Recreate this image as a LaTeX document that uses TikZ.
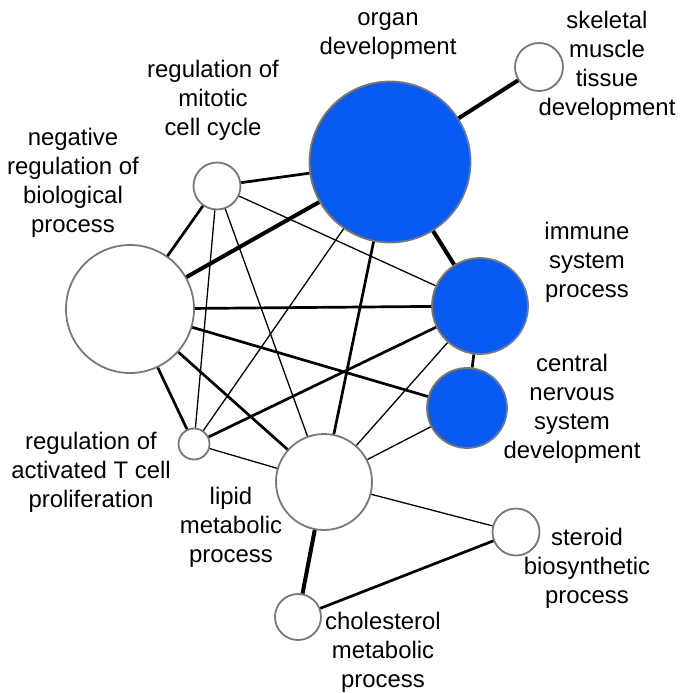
\documentclass[tikz,border=0pt]{standalone}
\usepackage{fontspec}
\setmainfont{Liberation Sans}
\definecolor{goblue}{RGB}{8,90,240}
\definecolor{rimgray}{RGB}{120,120,120}

\begin{document}
\begin{tikzpicture}[x=1bp,y=-1bp,
  term/.style={circle,draw=rimgray,line width=1.8bp,fill=white,inner sep=0pt,minimum size=#1},
  hit/.style={fill=goblue},
  lbl/.style={align=center,inner sep=0pt,font=\fontsize{24}{29}\selectfont},
  thin/.style={line width=1.3bp},
  mid/.style={line width=2.7bp},
  fat/.style={line width=4bp}]
\useasboundingbox (0,0) rectangle (680,693);
% terms
\node[term=161bp,hit] (organ) at (390,162) {};
\node[term=48bp] (skeletal) at (539,67) {};
\node[term=47bp] (mitotic) at (217,186) {};
\node[term=128bp] (negreg) at (130,309) {};
\node[term=96bp,hit] (immune) at (480,306) {};
\node[term=80bp,hit] (cns) at (467,408) {};
\node[term=31bp] (tcell) at (194,444) {};
\node[term=96bp] (lipid) at (324,482) {};
\node[term=47bp] (steroid) at (516,532) {};
\node[term=46bp] (chol) at (298,617) {};
% labels
\node[lbl] (organlbl) at (388,36) {organ\\development};
\node[lbl] (skeletallbl) at (607,66) {skeletal\\muscle\\tissue\\development};
\node[lbl] (mitoticlbl) at (213,100) {regulation of\\mitotic\\cell cycle};
\node[lbl] (negreglbl) at (73,183) {negative\\regulation of\\biological\\process};
\node[lbl] (immunelbl) at (587,262) {immune\\system\\process};
\node[lbl] (cnslbl) at (572,409) {central\\nervous\\system\\development};
\node[lbl] (tcelllbl) at (91,472) {regulation of\\activated T cell\\proliferation};
\node[lbl] (lipidlbl) at (231,527) {lipid\\metabolic\\process};
\node[lbl] (steroidlbl) at (587,568) {steroid\\biosynthetic\\process};
\node[lbl] (chollbl) at (383,652) {cholesterol\\metabolic\\process};
% links
\draw[fat] (organ) -- (skeletal);
\draw[fat] (organ) -- (negreg);
\draw[fat] (organ) -- (immune);
\draw[mid] (organ) -- (mitotic);
\draw[mid] (organ) -- (lipid);
\draw[thin] (organ) -- (tcell);
\draw[thin] (mitotic) -- (immune);
\draw[mid] (mitotic) -- (negreg);
\draw[thin] (mitotic) -- (tcell);
\draw[thin] (mitotic) -- (lipid);
\draw[mid] (negreg) -- (immune);
\draw[mid] (negreg) -- (cns);
\draw[mid] (negreg) -- (tcell);
\draw[mid] (negreg) -- (lipid);
\draw[mid] (tcell) -- (immune);
\draw[thin] (tcell) -- (lipid);
\draw[thin] (immune) -- (lipid);
\draw[mid] (immune) -- (cns);
\draw[thin] (cns) -- (lipid);
\draw[thin] (lipid) -- (steroid);
\draw[fat] (lipid) -- (chol);
\draw[mid] (chol) -- (steroid);
\end{tikzpicture}
\end{document}
